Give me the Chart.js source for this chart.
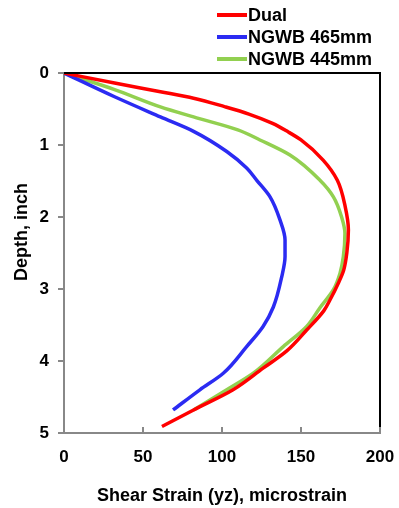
<!DOCTYPE html>
<html>
<head>
<meta charset="utf-8">
<script src="https://cdn.jsdelivr.net/npm/chart.js@4"></script>
<style>
  html, body { margin: 0; padding: 0; background: #ffffff; }
  #wrap { width: 399px; height: 508px; position: relative; }
</style>
</head>
<body>
<div id="wrap"><canvas id="c" width="399" height="508"></canvas></div>
<script>
// ---- Data ----
const seriesNames = ["Dual", "NGWB 465mm", "NGWB 445mm"];
const seriesColors = ["#ff0000", "#2b2bf2", "#92d050"];

// Dual
const dualDepth  = [0, 0.14, 0.26, 0.35, 0.47, 0.57, 0.70, 0.82, 0.93, 1.21, 1.49, 1.86, 2.18, 2.50, 2.74, 2.92, 3.15, 3.30, 3.57, 3.86, 4.10, 4.40, 4.68, 4.91];
const dualStrain = [0, 32,   61,   82,   102,  117,  132,  142,  150,  164,  173,  178,  180,  179,  177,  173.6, 168.4, 164.5, 153.6, 141, 126, 107, 82, 62];

// NGWB 465mm
const n465Depth  = [0, 0.33, 0.61, 0.81, 1.09, 1.32, 1.49, 1.72, 2.04, 2.32, 2.55, 2.83, 3.25, 3.52, 3.80, 4.17, 4.40, 4.68];
const n465Strain = [0, 32,   61,   82,   103,  115.6, 122, 130.4, 136.7, 139.9, 139.9, 137.8, 132.5, 126, 115.6, 100.8, 86, 69];

// NGWB 445mm
const n445Depth  = [0, 0.23, 0.47, 0.61, 0.79, 0.93, 1.14, 1.49, 1.72, 2.00, 2.23, 2.55, 2.78, 3.01, 3.26, 3.52, 3.80, 4.17, 4.40, 4.68];
const n445Strain = [0, 32,   61,   82,   110,  124,  143,  162,  170.5, 175.7, 177.8, 176.8, 174.7, 170.5, 162, 153.6, 138.8, 119.8, 103, 82];

const xTicks = [0, 50, 100, 150, 200];
const yTicks = [0, 1, 2, 3, 4, 5];
const xTitle = "Shear Strain (yz), microstrain";
const yTitle = "Depth, inch";

function toPoints(xs, ys) { return xs.map((x, i) => ({ x: x, y: ys[i] })); }

const FONT = "'Liberation Sans', Arial, sans-serif";

const frameAndLegend = {
  id: 'frameAndLegend',
  afterDraw(chart) {
    const ctx = chart.ctx;
    const a = chart.chartArea;
    ctx.save();
    // top and right plot border (black)
    ctx.strokeStyle = '#000';
    ctx.lineWidth = 2;
    ctx.beginPath();
    ctx.moveTo(a.left, a.top);
    ctx.lineTo(a.right, a.top);
    ctx.lineTo(a.right, a.bottom);
    ctx.stroke();
    // inward tick marks on x axis
    const xs = chart.scales.x;
    ctx.strokeStyle = '#888';
    ctx.lineWidth = 2;
    xs.ticks.forEach(t => {
      const px = xs.getPixelForValue(t.value);
      ctx.beginPath();
      ctx.moveTo(px, a.bottom);
      ctx.lineTo(px, a.bottom - 6);
      ctx.stroke();
    });
    // y axis title (sits a little above the axis middle, as in the original)
    ctx.font = "bold 18px " + FONT;
    ctx.fillStyle = '#000';
    ctx.textAlign = 'center';
    ctx.textBaseline = 'middle';
    ctx.save();
    ctx.translate(22, 232);
    ctx.rotate(-Math.PI / 2);
    ctx.fillText(yTitle, 0, 0);
    ctx.restore();
    // legend
    ctx.textBaseline = 'middle';
    ctx.textAlign = 'left';
    chart.data.datasets.forEach((ds, i) => {
      const y = 15 + 22 * i;
      ctx.strokeStyle = ds.borderColor;
      ctx.lineWidth = 4;
      ctx.beginPath();
      ctx.moveTo(217, y);
      ctx.lineTo(247, y);
      ctx.stroke();
      ctx.fillStyle = '#000';
      ctx.fillText(ds.label, 248, y + 1);
    });
    ctx.restore();
  }
};

const datasets = [
  toPoints(dualStrain, dualDepth),
  toPoints(n465Strain, n465Depth),
  toPoints(n445Strain, n445Depth)
].map((pts, i) => ({
  label: seriesNames[i],
  data: pts,
  showLine: true,
  indexAxis: 'y',
  cubicInterpolationMode: 'monotone',
  borderColor: seriesColors[i],
  backgroundColor: seriesColors[i],
  borderWidth: 3.5,
  pointRadius: 0,
  fill: false
}));

new Chart(document.getElementById('c'), {
  type: 'scatter',
  data: { datasets: datasets },
  options: {
    responsive: false,
    animation: false,
    devicePixelRatio: 1,
    layout: { padding: { left: 0, top: 73, right: 19, bottom: 0 } },
    plugins: { legend: { display: false }, tooltip: { enabled: false } },
    scales: {
      x: {
        type: 'linear',
        min: 0, max: 200,
        afterBuildTicks: s => { s.ticks = xTicks.map(v => ({ value: v })); },
        afterFit: s => { s.height = 75; s.paddingLeft = 0; s.paddingRight = 0; },
        grid: { display: true, drawOnChartArea: false, drawTicks: false, color: '#888' },
        border: { display: true, color: '#888', width: 2 },
        ticks: { color: '#000', padding: 14, font: { family: FONT, size: 17, weight: 'bold' } },
        title: { display: true, text: xTitle, color: '#000', padding: { top: 0, bottom: 1 },
                 font: { family: FONT, size: 18, weight: 'bold' } }
      },
      y: {
        type: 'linear',
        reverse: true,
        min: 0, max: 5,
        afterBuildTicks: s => { s.ticks = yTicks.map(v => ({ value: v })); },
        afterFit: s => { s.width = 64; s.paddingTop = 0; s.paddingBottom = 0; },
        grid: { display: true, drawOnChartArea: false, drawTicks: true, tickLength: 6, color: '#888', lineWidth: 2 },
        border: { display: true, color: '#888', width: 2 },
        ticks: { color: '#000', padding: 9, font: { family: FONT, size: 17, weight: 'bold' } },
        title: { display: false, text: yTitle }
      }
    }
  },
  plugins: [frameAndLegend]
});
</script>
</body>
</html>
